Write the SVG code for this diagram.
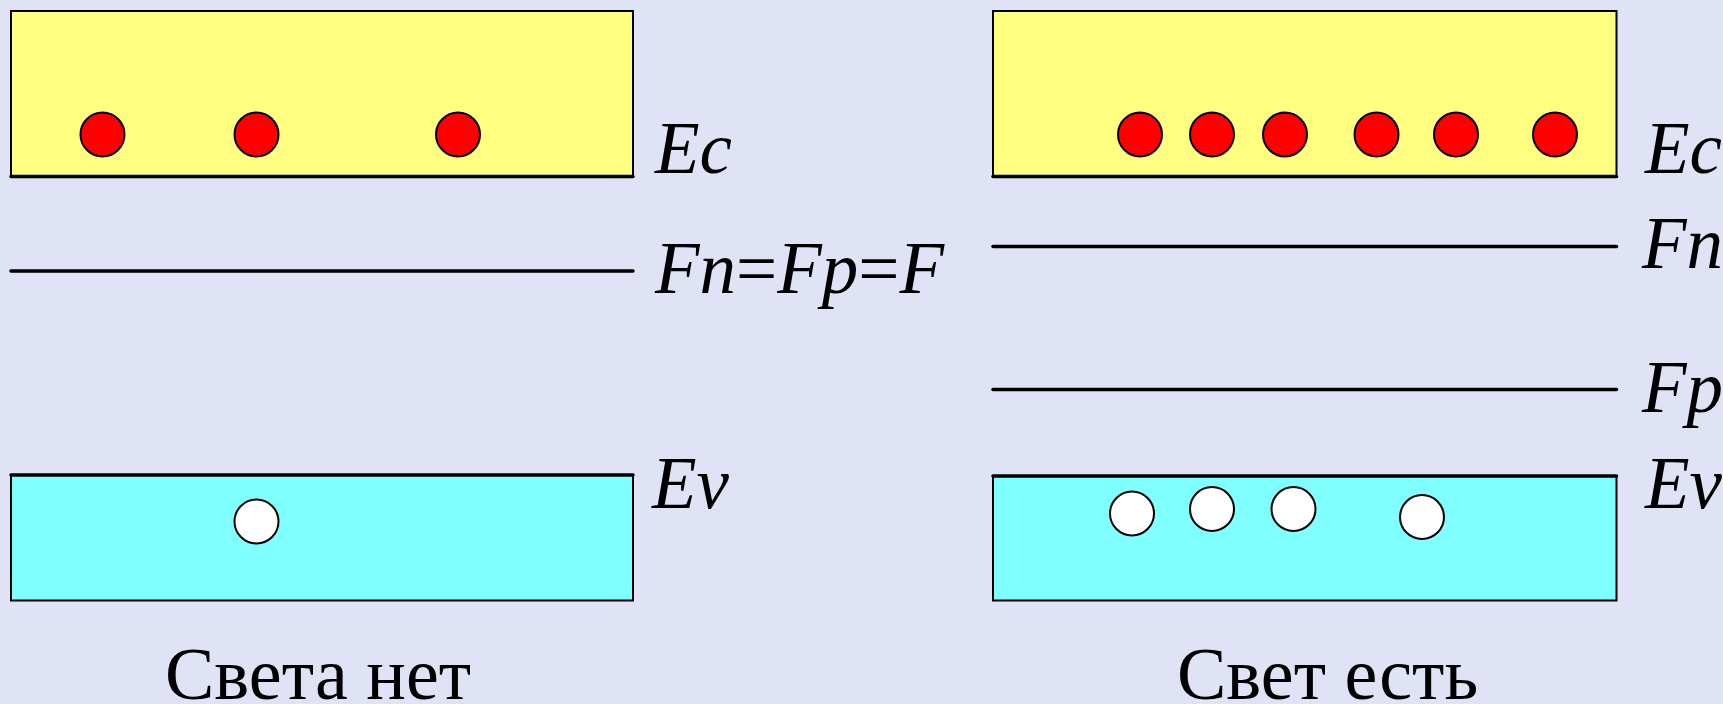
<svg xmlns="http://www.w3.org/2000/svg" width="1723" height="704" viewBox="0 0 1723 704">
<style>
.cb{fill:#FFFF80;stroke:#000;stroke-width:2}
.vb{fill:#80FFFF;stroke:#000;stroke-width:2}
.lvl{stroke:#000;stroke-width:3.5;stroke-linecap:round;fill:none}
.e{fill:#FF0000;stroke:#000;stroke-width:2}
.h{fill:#FFFFFF;stroke:#000;stroke-width:2}
.lab{font-family:"Liberation Serif","Times New Roman",serif;font-style:italic;font-size:73px;fill:#000}
.up{font-style:normal}
.cap{font-family:"Liberation Serif","Times New Roman",serif;font-size:74px;fill:#000}
</style>
<rect width="1723" height="704" fill="#E0E2F6"/>
<g id="left-panel">
  <g id="left-conduction">
    <rect class="cb" x="11" y="11" width="622" height="165"/>
    <line class="lvl" x1="11" y1="176.5" x2="633" y2="176.5"/>
    <circle class="e" cx="102.5" cy="134.5" r="22"/>
    <circle class="e" cx="256.5" cy="134.5" r="22"/>
    <circle class="e" cx="458" cy="134.5" r="22"/>
  </g>
  <g id="left-fermi">
    <line class="lvl" x1="11" y1="271" x2="633" y2="271"/>
  </g>
  <g id="left-valence">
    <rect class="vb" x="11" y="475" width="622" height="125.5"/>
    <line class="lvl" x1="11" y1="475" x2="633" y2="475"/>
    <circle class="h" cx="256.5" cy="521.5" r="22"/>
  </g>
  <text class="lab" x="655" y="173">Ec</text>
  <text class="lab" x="655" y="293">Fn<tspan class="up">=</tspan>Fp<tspan class="up">=</tspan>F</text>
  <text class="lab" x="652" y="508">Ev</text>
  <text class="cap" x="165" y="699">Света нет</text>
</g>
<g id="right-panel">
  <g id="right-conduction">
    <rect class="cb" x="993" y="11" width="623.5" height="165"/>
    <line class="lvl" x1="993" y1="176.5" x2="1616.5" y2="176.5"/>
    <circle class="e" cx="1140" cy="134.5" r="22"/>
    <circle class="e" cx="1212" cy="134.5" r="22"/>
    <circle class="e" cx="1285" cy="134.5" r="22"/>
    <circle class="e" cx="1376.5" cy="134.5" r="22"/>
    <circle class="e" cx="1456" cy="134.5" r="22"/>
    <circle class="e" cx="1555" cy="134.5" r="22"/>
  </g>
  <g id="right-fn">
    <line class="lvl" x1="993" y1="246.5" x2="1616.5" y2="246.5"/>
  </g>
  <g id="right-fp">
    <line class="lvl" x1="993" y1="389.5" x2="1616.5" y2="389.5"/>
  </g>
  <g id="right-valence">
    <rect class="vb" x="993" y="476" width="623.5" height="124.5"/>
    <line class="lvl" x1="993" y1="476" x2="1616.5" y2="476"/>
    <circle class="h" cx="1132" cy="513.5" r="22"/>
    <circle class="h" cx="1212" cy="509" r="22"/>
    <circle class="h" cx="1293.5" cy="509" r="22"/>
    <circle class="h" cx="1422" cy="517" r="22"/>
  </g>
  <text class="lab" x="1645" y="173">Ec</text>
  <text class="lab" x="1642" y="268">Fn</text>
  <text class="lab" x="1642" y="412">Fp</text>
  <text class="lab" x="1645" y="508">Ev</text>
  <text class="cap" x="1177" y="699">Свет есть</text>
</g>
<g id="connectors"/>
</svg>
